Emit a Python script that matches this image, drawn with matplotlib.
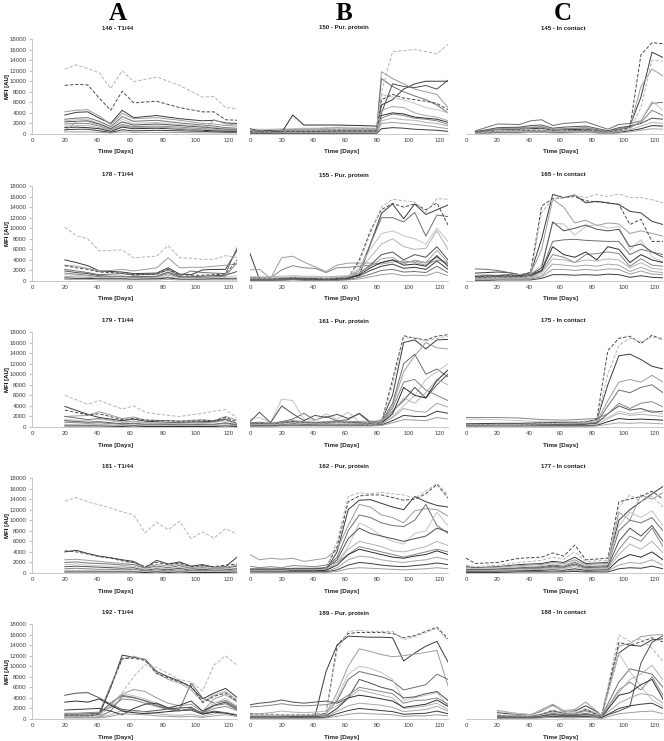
import numpy as np
import matplotlib.pyplot as plt

# values in thousands of AU

# ---------------- column A : T1/44 ----------------
days_146 = [20, 27, 34, 41, 48, 55, 62, 76, 90, 104, 111, 118, 125]
dash_light_146 = [12.3, 13.1, 12.4, 11.6, 8.6, 12.0, 9.9, 10.8, 9.2, 7.0, 7.1, 5.0, 4.8]
dash_dark_146 = [9.2, 9.4, 9.3, 6.8, 4.5, 8.1, 5.9, 6.2, 5.0, 4.2, 4.2, 2.7, 2.6]
solid_146 = [
    [3.6, 4.1, 4.2, 3.0, 2.0, 4.5, 3.1, 3.5, 2.9, 2.5, 2.6, 2.1, 2.0],
    [4.2, 4.5, 4.6, 3.4, 1.8, 3.9, 2.9, 3.1, 2.6, 2.0, 1.9, 1.6, 1.5],
    [2.8, 3.0, 3.1, 2.4, 1.4, 3.3, 2.4, 2.6, 2.1, 1.7, 1.5, 1.2, 1.1],
    [2.5, 2.7, 2.8, 2.0, 1.2, 2.8, 2.0, 2.2, 1.8, 1.5, 1.3, 1.0, 1.0],
    [2.3, 2.4, 2.5, 1.9, 1.0, 2.3, 1.7, 1.9, 1.6, 1.3, 1.1, 0.9, 0.9],
    [1.9, 2.0, 2.0, 1.5, 0.8, 1.8, 1.4, 1.5, 1.3, 1.0, 0.9, 0.7, 0.7],
    [1.5, 1.6, 1.6, 1.2, 0.7, 1.5, 1.2, 1.3, 1.1, 0.9, 0.8, 0.7, 0.6],
    [1.2, 1.3, 1.2, 1.0, 0.5, 1.3, 1.0, 1.1, 0.9, 0.7, 0.6, 0.5, 0.5],
    [0.6, 2.3, 2.4, 1.6, 0.7, 1.6, 1.2, 1.3, 1.0, 0.6, 2.7, 1.9, 1.7],
    [0.8, 0.9, 0.9, 0.6, 0.3, 0.8, 0.6, 0.7, 0.6, 0.5, 0.4, 0.3, 0.3],
    [0.4, 0.4, 0.4, 0.3, 0.2, 0.4, 0.3, 0.3, 0.3, 0.2, 0.2, 0.2, 0.2],
]

days_178 = [20, 27, 34, 41, 48, 55, 62, 76, 83, 90, 97, 104, 111, 118, 125]
dash_light_178 = [10.2, 8.6, 8.0, 5.7, 5.8, 5.9, 4.4, 4.7, 6.7, 4.4, 4.3, 4.1, 4.1, 4.8, 4.5]
dash_dark_178 = [2.9, 2.5, 2.2, 1.7, 1.6, 1.5, 1.2, 1.3, 2.2, 1.2, 1.1, 1.1, 1.2, 1.3, 4.0]
solid_178 = [
    [4.0, 3.5, 2.9, 1.9, 1.8, 1.7, 1.4, 1.5, 2.5, 1.3, 1.2, 2.1, 2.2, 2.2, 5.8],
    [3.0, 2.8, 2.4, 1.9, 2.0, 2.2, 1.9, 2.5, 4.4, 2.5, 2.6, 2.6, 2.8, 3.0, 3.2],
    [2.2, 1.9, 1.6, 1.2, 1.3, 1.4, 1.1, 1.3, 2.1, 1.0, 1.9, 1.6, 1.5, 1.4, 6.3],
    [1.2, 1.1, 0.9, 0.7, 0.7, 0.7, 0.6, 0.7, 1.1, 0.6, 0.6, 0.6, 0.7, 0.7, 1.0],
    [1.9, 1.6, 1.4, 1.0, 0.9, 0.9, 0.8, 0.9, 1.7, 0.8, 0.8, 0.9, 1.0, 1.1, 1.8],
    [1.5, 1.3, 1.1, 0.8, 0.8, 0.9, 0.7, 0.8, 1.4, 0.7, 0.7, 0.7, 0.8, 0.9, 3.5],
    [0.9, 0.8, 0.7, 0.5, 0.5, 0.5, 0.4, 0.5, 0.8, 0.4, 0.4, 0.5, 0.5, 0.5, 0.6],
    [0.6, 0.5, 0.5, 0.4, 0.4, 0.4, 0.3, 0.4, 0.6, 0.3, 0.3, 0.3, 0.4, 0.4, 0.4],
    [0.3, 0.3, 0.3, 0.2, 0.2, 0.2, 0.2, 0.2, 0.3, 0.2, 0.2, 0.2, 0.2, 0.2, 0.2],
]

days_179 = [20, 34, 41, 55, 62, 69, 83, 90, 104, 111, 118, 125]
dash_light_179 = [6.0, 4.3, 5.0, 3.4, 4.0, 2.8, 2.2, 2.0, 2.6, 3.0, 3.3, 1.7]
dash_dark_179 = [3.2, 2.3, 2.5, 1.4, 1.6, 1.3, 1.2, 1.1, 1.2, 1.2, 1.8, 1.0]
solid_179 = [
    [3.9, 2.4, 1.8, 1.2, 1.5, 1.1, 0.9, 0.9, 1.0, 1.1, 1.5, 0.6],
    [2.0, 2.2, 2.9, 1.6, 1.9, 1.3, 1.2, 1.1, 1.4, 1.2, 2.0, 1.3],
    [2.0, 1.4, 1.6, 0.9, 1.1, 0.8, 0.7, 0.7, 0.8, 0.9, 1.4, 0.6],
    [1.4, 1.2, 1.5, 0.9, 1.0, 0.8, 0.7, 0.6, 0.7, 0.8, 1.2, 0.5],
    [1.2, 0.9, 1.0, 0.6, 0.7, 0.5, 0.5, 0.4, 0.5, 0.5, 0.8, 0.4],
    [0.9, 0.7, 0.8, 0.5, 0.6, 0.5, 0.4, 0.4, 0.4, 0.5, 0.7, 0.3],
    [0.5, 0.4, 0.5, 0.3, 0.3, 0.3, 0.3, 0.2, 0.3, 0.3, 0.4, 0.2],
    [0.2, 0.2, 0.2, 0.1, 0.2, 0.1, 0.1, 0.1, 0.1, 0.1, 0.2, 0.1],
]

days_181 = [20, 27, 34, 41, 48, 55, 62, 69, 76, 83, 90, 97, 104, 111, 118, 125]
dash_light_181 = [13.6, 14.3, 13.5, 12.9, 12.3, 11.6, 11.0, 7.6, 9.6, 8.2, 9.8, 6.5, 7.8, 6.6, 8.4, 7.4]
dash_dark_181 = [4.2, 4.0, 3.6, 3.1, 2.8, 2.3, 2.0, 1.2, 2.0, 1.6, 1.9, 1.2, 1.4, 1.2, 1.5, 1.7]
solid_181 = [
    [4.0, 4.3, 3.7, 3.2, 2.9, 2.5, 2.2, 1.0, 2.4, 1.7, 2.1, 1.3, 1.6, 1.1, 1.2, 3.0],
    [2.5, 2.6, 2.4, 2.2, 2.0, 1.8, 2.0, 1.0, 1.6, 1.3, 1.7, 1.0, 1.3, 1.0, 1.1, 1.5],
    [2.0, 2.1, 1.9, 1.8, 1.7, 1.5, 1.6, 0.9, 1.3, 1.0, 1.4, 0.8, 1.0, 0.8, 0.9, 1.3],
    [1.6, 1.7, 1.5, 1.4, 1.3, 1.2, 1.3, 0.7, 1.1, 0.8, 1.1, 0.7, 0.8, 0.7, 0.8, 1.0],
    [1.2, 1.3, 1.2, 1.1, 1.0, 0.9, 1.0, 0.5, 0.8, 0.6, 0.9, 0.5, 0.7, 0.5, 0.6, 0.8],
    [0.8, 0.9, 0.8, 0.7, 0.7, 0.6, 0.7, 0.4, 0.6, 0.4, 0.6, 0.4, 0.5, 0.4, 0.4, 0.6],
    [0.5, 0.5, 0.5, 0.4, 0.4, 0.4, 0.4, 0.2, 0.3, 0.3, 0.4, 0.2, 0.3, 0.2, 0.3, 0.4],
    [0.2, 0.2, 0.2, 0.2, 0.2, 0.2, 0.2, 0.1, 0.2, 0.1, 0.2, 0.1, 0.1, 0.1, 0.1, 0.2],
]

days_192 = [20, 27, 34, 41, 48, 55, 62, 69, 76, 83, 90, 97, 104, 111, 118, 125]
dash_light_192 = [0.4, 0.4, 0.4, 0.5, 2.5, 5.0, 8.0, 10.3, 9.8, 8.6, 7.5, 7.0, 5.3, 10.2, 12.0, 10.2]
dash_dark_192 = [0.6, 0.6, 0.6, 1.0, 6.0, 11.5, 11.5, 11.1, 8.6, 7.8, 7.0, 6.3, 3.1, 4.3, 4.9, 3.4]
solid_192 = [
    [0.5, 0.5, 0.6, 0.8, 6.0, 12.1, 11.7, 11.3, 9.0, 8.0, 7.2, 6.0, 3.8, 4.9, 5.8, 4.1],
    [0.7, 0.7, 0.7, 0.9, 3.0, 4.7, 5.6, 5.2, 4.0, 3.0, 2.5, 2.8, 1.4, 3.8, 4.6, 3.2],
    [0.3, 0.3, 0.3, 0.4, 1.5, 4.3, 4.0, 3.5, 2.8, 2.0, 1.8, 6.8, 4.0, 3.0, 3.5, 2.3],
    [0.5, 0.5, 0.5, 0.6, 2.5, 4.8, 4.4, 3.8, 3.0, 2.2, 2.0, 2.3, 1.0, 3.0, 3.9, 2.5],
    [4.5, 4.9, 5.0, 4.0, 2.8, 1.8, 1.6, 1.4, 1.6, 1.9, 2.1, 2.2, 1.0, 1.5, 1.2, 0.8],
    [1.1, 1.1, 1.2, 1.3, 2.2, 3.8, 3.6, 3.0, 2.4, 1.8, 1.5, 2.0, 1.1, 2.0, 2.4, 1.6],
    [0.3, 0.3, 0.3, 0.3, 0.8, 1.6, 1.5, 1.3, 1.0, 0.8, 0.7, 0.9, 0.5, 1.0, 1.2, 0.8],
    [3.2, 3.4, 3.2, 3.8, 2.6, 1.5, 1.2, 1.0, 1.2, 1.4, 1.6, 1.7, 0.9, 1.3, 1.1, 0.7],
    [0.8, 0.8, 0.9, 1.2, 6.5, 11.3, 11.9, 11.2, 8.7, 7.5, 6.8, 5.5, 3.3, 4.5, 5.2, 3.6],
    [1.7, 1.8, 1.9, 2.0, 1.5, 0.8, 2.0, 2.8, 3.0, 2.1, 2.6, 3.4, 1.5, 2.6, 3.2, 2.0],
    [0.2, 0.2, 0.2, 0.2, 0.5, 1.0, 0.9, 0.8, 0.6, 0.5, 0.4, 0.5, 0.3, 0.6, 0.8, 0.5],
    [0.9, 0.9, 1.0, 1.1, 3.0, 4.5, 4.1, 3.4, 2.5, 1.9, 1.6, 1.9, 1.2, 2.5, 2.9, 1.8],
]

# ---------------- column B : purified protein ----------------
days_150 = [0, 6, 13, 20, 27, 34, 41, 55, 69, 80, 83, 90, 97, 104, 111, 118, 125]
dash_light_150 = [0.8, 0.7, 0.8, 0.7, 0.9, 1.0, 1.0, 1.1, 1.0, 1.0, 8.0, 15.6, 15.8, 16.0, 15.6, 15.2, 17.0]
dash_dark_150 = [0.4, 0.4, 0.4, 0.5, 0.5, 0.5, 0.5, 0.6, 0.6, 0.6, 6.5, 7.5, 6.8, 6.5, 6.2, 5.8, 4.6]
solid_150 = [
    [0.3, 0.3, 0.3, 0.3, 0.4, 0.4, 0.4, 0.4, 0.4, 0.5, 5.5, 6.5, 8.5, 9.5, 10.0, 10.0, 10.0],
    [0.6, 0.6, 0.6, 0.7, 0.8, 0.8, 0.8, 0.9, 0.9, 0.9, 11.8, 10.5, 9.5, 8.5, 8.0, 7.5, 5.0],
    [0.7, 0.7, 0.7, 0.8, 0.9, 1.0, 1.0, 1.2, 1.1, 1.0, 10.5, 9.0, 8.0, 7.2, 6.5, 5.5, 4.0],
    [0.9, 0.9, 0.9, 1.0, 1.0, 1.1, 1.1, 1.3, 1.2, 1.1, 7.5, 7.0, 6.4, 5.8, 5.0, 4.6, 4.0],
    [0.5, 0.5, 0.5, 0.6, 0.6, 0.6, 0.6, 0.7, 0.7, 0.7, 4.0, 9.5, 9.0, 8.8, 9.2, 8.5, 10.2],
    [0.3, 0.3, 0.3, 0.3, 0.4, 0.4, 0.4, 0.5, 0.5, 0.4, 3.0, 3.8, 3.5, 3.0, 2.8, 2.5, 1.8],
    [0.5, 0.5, 0.5, 0.5, 0.6, 0.6, 0.6, 0.7, 0.7, 0.6, 2.5, 3.0, 2.7, 2.6, 2.2, 2.0, 1.5],
    [1.0, 0.6, 0.7, 0.3, 3.6, 1.7, 1.7, 1.7, 1.6, 1.5, 3.5, 4.0, 3.8, 3.2, 3.0, 2.8, 2.2],
    [0.2, 0.2, 0.2, 0.2, 0.2, 0.2, 0.2, 0.3, 0.3, 0.3, 4.5, 5.2, 5.0, 4.0, 3.5, 3.2, 2.5],
    [0.1, 0.1, 0.1, 0.1, 0.1, 0.1, 0.1, 0.1, 0.1, 0.1, 1.0, 1.2, 1.1, 0.9, 0.8, 0.7, 0.5],
    [0.2, 0.2, 0.2, 0.2, 0.2, 0.2, 0.2, 0.2, 0.2, 0.2, 2.0, 2.2, 2.0, 1.8, 1.6, 1.3, 1.0],
]

days_155 = [0, 6, 13, 20, 27, 34, 41, 48, 55, 62, 69, 76, 83, 90, 97, 104, 111, 118, 125]
dash_light_155 = [0.5, 0.5, 0.5, 0.6, 0.7, 0.6, 0.6, 0.5, 0.6, 0.7, 3.5, 9.0, 14.0, 15.5, 15.2, 15.0, 13.0, 15.6, 15.5]
dash_dark_155 = [0.4, 0.4, 0.4, 0.5, 0.6, 0.5, 0.5, 0.4, 0.5, 0.6, 4.0, 9.5, 13.5, 14.7, 14.0, 14.6, 13.5, 14.8, 10.6]
solid_155 = [
    [5.2, 0.3, 0.2, 0.4, 0.6, 0.5, 0.5, 0.4, 0.7, 0.8, 1.0, 7.0, 12.8, 14.6, 11.8, 14.6, 12.6, 13.5, 14.4],
    [2.1, 2.2, 0.5, 4.4, 4.7, 3.6, 2.7, 1.8, 3.0, 3.4, 3.4, 3.4, 3.2, 3.6, 3.8, 3.5, 3.0, 4.0, 3.5],
    [0.3, 0.3, 0.3, 0.3, 0.4, 0.4, 0.4, 0.3, 0.4, 0.5, 2.0, 7.0, 12.0, 12.0, 11.2, 13.0, 8.5, 12.5, 12.2],
    [0.6, 0.6, 0.6, 0.7, 0.8, 0.7, 0.7, 0.6, 0.7, 0.8, 2.5, 6.0, 9.0, 9.5, 8.6, 8.0, 7.0, 10.0, 7.5],
    [0.2, 0.2, 0.2, 0.3, 0.5, 0.4, 0.4, 0.3, 0.4, 0.5, 1.5, 3.0, 5.0, 5.5, 4.0, 5.0, 4.5, 6.5, 4.0],
    [0.7, 0.6, 0.6, 2.1, 2.9, 2.5, 2.4, 1.6, 2.5, 2.6, 2.8, 3.0, 3.5, 4.0, 3.5, 3.8, 3.4, 4.5, 3.2],
    [0.8, 0.8, 0.8, 0.9, 1.0, 0.9, 0.9, 0.8, 0.9, 1.0, 2.0, 4.5, 7.0, 8.0, 6.5, 6.0, 6.2, 9.5, 6.0],
    [0.2, 0.2, 0.2, 0.2, 0.3, 0.3, 0.3, 0.2, 0.3, 0.4, 1.2, 2.5, 3.5, 4.0, 3.0, 3.2, 2.8, 4.8, 2.8],
    [0.3, 0.3, 0.3, 0.4, 0.6, 0.5, 0.5, 0.4, 0.5, 0.6, 1.5, 2.8, 4.2, 4.5, 3.2, 4.0, 3.5, 5.8, 3.5],
    [0.4, 0.4, 0.4, 0.5, 0.6, 0.5, 0.5, 0.4, 0.5, 0.6, 1.0, 2.0, 2.8, 3.2, 2.4, 2.6, 2.2, 3.8, 2.2],
    [0.1, 0.1, 0.1, 0.1, 0.2, 0.1, 0.1, 0.1, 0.1, 0.2, 0.4, 0.8, 1.2, 1.4, 1.0, 1.1, 1.0, 1.7, 1.0],
    [0.1, 0.1, 0.1, 0.2, 0.3, 0.2, 0.2, 0.2, 0.2, 0.3, 0.7, 1.3, 2.0, 2.2, 1.7, 1.8, 1.6, 2.8, 1.6],
]

days_161 = [0, 6, 13, 20, 27, 34, 41, 48, 55, 62, 69, 76, 83, 90, 97, 104, 111, 118, 125]
dash_light_161 = [0.4, 0.5, 0.4, 0.6, 0.8, 0.7, 0.6, 0.7, 0.8, 0.7, 0.6, 0.5, 0.8, 8.0, 16.8, 17.0, 16.3, 16.8, 17.2]
dash_dark_161 = [0.5, 0.6, 0.5, 0.7, 1.0, 0.8, 0.7, 0.8, 0.9, 0.8, 0.7, 0.6, 0.9, 9.0, 17.3, 16.8, 16.5, 17.2, 17.5]
solid_161 = [
    [0.6, 0.6, 0.6, 0.8, 1.0, 0.9, 0.8, 0.9, 1.0, 0.9, 0.8, 0.7, 1.2, 6.0, 16.0, 16.5, 14.8, 16.5, 16.6],
    [0.3, 0.3, 0.3, 0.4, 0.5, 0.5, 0.4, 0.4, 0.5, 0.5, 0.4, 0.4, 0.6, 4.0, 10.5, 13.5, 16.0, 15.0, 14.8],
    [0.8, 0.9, 0.7, 1.0, 1.5, 2.6, 1.3, 2.0, 1.2, 1.4, 2.6, 1.0, 1.0, 4.5, 12.0, 13.8, 10.0, 11.0, 9.5],
    [1.5, 1.8, 0.8, 5.3, 5.0, 1.5, 1.2, 2.5, 1.5, 2.8, 1.0, 1.2, 1.0, 2.0, 4.0, 6.0, 9.0, 10.5, 12.0],
    [1.0, 2.8, 0.8, 4.0, 2.5, 1.2, 2.2, 1.8, 2.4, 1.6, 2.5, 0.8, 0.9, 3.0, 5.0, 7.5, 5.5, 8.0, 10.0],
    [0.6, 0.7, 0.6, 0.9, 1.2, 1.0, 0.9, 1.0, 1.2, 1.1, 1.0, 0.9, 1.3, 3.5, 8.5, 9.0, 7.0, 6.0, 5.0],
    [0.5, 0.5, 0.5, 0.7, 0.9, 0.8, 0.7, 0.8, 0.9, 0.8, 0.7, 0.7, 1.0, 2.8, 5.5, 4.5, 6.5, 9.0, 8.0],
    [0.2, 0.3, 0.3, 0.4, 0.6, 0.5, 0.5, 0.6, 0.5, 0.5, 0.5, 0.5, 0.7, 2.5, 7.5, 6.0, 5.5, 8.8, 10.8],
    [0.3, 0.3, 0.3, 0.4, 0.5, 0.4, 0.4, 0.5, 0.5, 0.5, 0.4, 0.4, 0.6, 1.8, 3.5, 3.0, 2.8, 4.5, 3.8],
    [0.2, 0.2, 0.2, 0.3, 0.3, 0.3, 0.3, 0.3, 0.3, 0.3, 0.3, 0.3, 0.4, 1.2, 2.2, 2.0, 2.0, 3.0, 2.6],
    [0.1, 0.1, 0.1, 0.2, 0.2, 0.2, 0.2, 0.2, 0.2, 0.2, 0.2, 0.2, 0.3, 0.8, 1.4, 1.3, 1.2, 1.8, 1.5],
]

days_162 = [0, 6, 13, 20, 27, 34, 41, 48, 55, 62, 69, 76, 83, 90, 97, 104, 111, 118, 125]
dash_light_162 = [0.5, 0.5, 0.5, 0.5, 0.6, 0.6, 0.6, 0.8, 6.0, 14.5, 15.2, 15.0, 15.3, 15.0, 14.8, 14.2, 15.5, 17.0, 14.8]
dash_dark_162 = [0.6, 0.6, 0.6, 0.6, 0.7, 0.7, 0.7, 1.0, 5.0, 13.5, 14.6, 14.8, 14.8, 14.3, 13.8, 14.0, 15.0, 16.8, 14.2]
solid_162 = [
    [0.4, 0.4, 0.4, 0.4, 0.5, 0.5, 0.5, 0.6, 4.0, 12.0, 13.8, 13.9, 13.2, 12.5, 12.0, 14.5, 13.5, 12.8, 12.5],
    [3.5, 2.5, 2.8, 2.6, 2.8, 2.2, 2.5, 2.8, 4.5, 9.0, 13.0, 12.5, 11.0, 10.5, 9.5, 11.8, 12.2, 12.0, 10.8],
    [0.8, 0.8, 0.8, 0.8, 0.9, 0.9, 0.9, 1.0, 3.0, 8.0, 11.0, 10.5, 9.5, 9.0, 8.8, 10.0, 13.0, 9.0, 7.5],
    [0.3, 0.3, 0.3, 0.3, 0.3, 0.3, 0.3, 0.4, 2.0, 5.0, 9.5, 8.5, 7.0, 6.0, 5.5, 7.5, 8.0, 11.5, 9.0],
    [0.7, 0.7, 0.7, 0.7, 0.8, 0.8, 0.8, 0.9, 2.5, 6.5, 8.5, 7.5, 7.0, 6.5, 6.0, 6.5, 7.0, 8.5, 7.8],
    [1.3, 1.0, 1.2, 1.0, 1.4, 1.3, 1.2, 1.5, 2.0, 3.5, 5.0, 4.5, 4.0, 3.5, 3.0, 3.5, 4.0, 4.5, 4.0],
    [0.5, 0.5, 0.5, 0.5, 0.6, 0.6, 0.6, 0.7, 2.0, 4.5, 6.0, 5.5, 5.0, 4.2, 4.0, 4.5, 5.0, 6.0, 5.2],
    [0.3, 0.3, 0.3, 0.3, 0.4, 0.4, 0.4, 0.5, 1.5, 3.5, 4.5, 4.0, 3.5, 3.0, 2.8, 3.2, 3.5, 4.2, 3.5],
    [0.2, 0.2, 0.2, 0.2, 0.2, 0.2, 0.2, 0.3, 1.0, 2.5, 3.2, 3.0, 2.5, 2.2, 2.0, 2.3, 2.5, 3.0, 2.5],
    [0.1, 0.1, 0.1, 0.1, 0.2, 0.2, 0.2, 0.2, 0.6, 1.5, 2.0, 1.8, 1.5, 1.3, 1.2, 1.4, 1.6, 1.9, 1.6],
    [0.1, 0.1, 0.1, 0.1, 0.1, 0.1, 0.1, 0.1, 0.3, 0.8, 1.0, 0.9, 0.8, 0.7, 0.6, 0.7, 0.8, 1.0, 0.8],
]

days_189 = [0, 6, 13, 20, 27, 34, 41, 48, 55, 62, 69, 76, 83, 90, 97, 104, 111, 118, 125]
dash_light_189 = [0.8, 0.8, 0.8, 0.8, 0.8, 0.8, 0.8, 0.9, 13.0, 16.6, 16.8, 16.6, 16.6, 16.6, 15.0, 15.6, 16.4, 17.2, 14.8]
dash_dark_189 = [1.0, 0.9, 0.9, 0.8, 0.8, 0.8, 0.9, 1.0, 14.0, 16.2, 16.4, 16.4, 16.4, 16.2, 15.4, 15.8, 16.6, 17.4, 15.2]
solid_189 = [
    [0.4, 0.4, 0.4, 0.4, 0.4, 0.4, 0.5, 9.0, 14.0, 15.7, 15.6, 15.5, 15.5, 15.4, 11.0, 12.5, 13.8, 14.7, 10.8],
    [0.6, 0.6, 0.6, 0.6, 0.6, 0.6, 0.7, 1.0, 5.0, 10.0, 13.3, 12.8, 12.2, 11.8, 12.0, 12.3, 12.6, 13.0, 6.3],
    [0.5, 0.5, 0.5, 0.5, 0.5, 0.5, 0.6, 1.0, 3.5, 7.5, 9.0, 8.5, 8.0, 7.2, 5.5, 6.0, 6.5, 8.5, 7.5],
    [0.3, 0.3, 0.3, 0.3, 0.3, 0.3, 0.4, 0.8, 4.0, 8.5, 10.0, 9.6, 8.8, 7.5, 3.5, 4.0, 4.5, 5.0, 2.5],
    [2.7, 3.0, 3.2, 3.6, 3.2, 3.0, 3.2, 3.4, 3.0, 4.0, 7.5, 6.8, 6.0, 5.5, 4.0, 4.2, 4.8, 5.2, 3.5],
    [2.3, 2.4, 2.6, 2.9, 2.6, 2.5, 2.6, 2.7, 3.2, 4.5, 6.0, 5.6, 5.2, 4.8, 3.0, 3.5, 3.6, 4.0, 2.8],
    [0.9, 1.0, 1.2, 1.5, 1.3, 1.2, 1.3, 1.5, 2.5, 4.0, 5.5, 5.0, 4.5, 4.0, 2.0, 2.2, 2.5, 3.0, 1.8],
    [0.3, 0.3, 0.3, 0.3, 0.4, 0.4, 0.4, 0.6, 2.0, 4.0, 4.5, 4.2, 3.8, 3.4, 2.2, 2.5, 2.8, 3.6, 2.4],
    [0.2, 0.2, 0.2, 0.2, 0.3, 0.3, 0.3, 0.4, 1.5, 2.5, 3.0, 2.8, 2.6, 2.2, 1.4, 1.6, 1.8, 2.4, 1.5],
    [0.1, 0.1, 0.1, 0.1, 0.2, 0.2, 0.2, 0.3, 1.0, 1.6, 2.0, 1.8, 1.6, 1.4, 0.9, 1.0, 1.1, 1.5, 1.0],
    [0.1, 0.1, 0.1, 0.1, 0.1, 0.1, 0.1, 0.2, 0.5, 0.9, 1.1, 1.0, 0.9, 0.8, 0.5, 0.6, 0.6, 0.8, 0.6],
]

# ---------------- column C : in contact ----------------
days_145 = [6, 20, 34, 41, 48, 55, 62, 76, 90, 97, 104, 111, 118, 125]
dash_light_145 = [0.2, 0.4, 0.5, 0.5, 0.6, 0.4, 0.5, 0.5, 0.2, 0.5, 0.8, 5.0, 14.0, 13.8]
dash_dark_145 = [0.3, 0.5, 0.6, 0.7, 0.7, 0.5, 0.6, 0.7, 0.3, 0.6, 1.2, 15.0, 17.3, 17.1]
solid_145 = [
    [0.4, 0.8, 0.9, 1.0, 1.1, 0.7, 0.8, 0.9, 0.4, 0.8, 1.5, 7.0, 15.5, 14.5],
    [0.5, 1.0, 1.2, 1.3, 1.4, 0.9, 1.0, 1.1, 0.5, 1.0, 1.3, 9.0, 12.3, 11.0],
    [0.6, 1.9, 1.8, 2.5, 2.7, 1.6, 2.0, 2.3, 0.9, 1.8, 2.0, 2.5, 5.8, 6.0],
    [0.2, 0.6, 0.7, 0.8, 0.8, 0.5, 0.6, 0.7, 0.3, 0.5, 1.0, 2.5, 6.2, 4.5],
    [0.4, 1.2, 1.3, 1.6, 1.7, 1.1, 1.3, 1.5, 0.6, 1.2, 1.5, 2.0, 3.0, 2.8],
    [0.3, 0.9, 1.0, 1.2, 1.3, 0.8, 1.0, 1.2, 0.5, 0.9, 1.3, 2.2, 4.5, 3.5],
    [0.1, 0.4, 0.5, 0.6, 0.6, 0.4, 0.5, 0.6, 0.2, 0.4, 0.8, 1.5, 2.2, 2.0],
    [0.1, 0.3, 0.3, 0.4, 0.4, 0.3, 0.3, 0.4, 0.1, 0.3, 0.6, 1.0, 1.6, 1.5],
    [0.1, 0.2, 0.2, 0.3, 0.3, 0.2, 0.2, 0.3, 0.1, 0.2, 0.4, 0.7, 1.0, 0.9],
]

days_165 = [6, 13, 20, 27, 34, 41, 48, 55, 62, 69, 76, 83, 90, 97, 104, 111, 118, 125]
dash_light_165 = [0.6, 0.6, 0.7, 0.7, 0.7, 0.9, 13.0, 15.5, 15.8, 16.2, 15.8, 16.4, 16.0, 16.5, 15.8, 15.8, 15.4, 14.8]
dash_dark_165 = [0.8, 0.9, 0.9, 1.0, 0.9, 1.7, 14.2, 15.6, 15.8, 16.0, 15.2, 15.0, 14.8, 14.5, 10.7, 11.7, 7.5, 7.5]
solid_165 = [
    [1.5, 1.6, 1.7, 1.6, 1.2, 1.5, 8.0, 16.4, 15.8, 16.3, 14.8, 15.1, 14.8, 14.5, 13.2, 12.9, 11.3, 10.7],
    [1.0, 1.1, 1.0, 1.2, 1.0, 1.4, 6.0, 15.5, 14.0, 11.0, 11.5, 10.5, 11.0, 10.8, 9.0, 9.5, 9.0, 8.5],
    [2.3, 2.2, 2.0, 1.6, 1.2, 1.3, 2.0, 7.5, 7.8, 7.9, 7.7, 7.6, 7.5, 7.5, 5.0, 6.0, 5.5, 5.0],
    [1.1, 1.2, 1.1, 1.3, 1.1, 1.3, 3.0, 11.0, 10.8, 8.7, 10.3, 10.7, 10.0, 10.3, 5.9, 7.8, 4.6, 3.6],
    [0.9, 1.0, 1.0, 1.2, 1.0, 1.2, 2.5, 11.2, 9.5, 10.0, 10.6, 9.8, 9.5, 9.8, 6.5, 7.0, 5.5, 4.5],
    [0.5, 0.5, 0.6, 0.7, 0.6, 0.8, 1.8, 5.0, 4.5, 3.5, 5.0, 5.2, 5.5, 5.2, 2.8, 4.2, 3.0, 2.8],
    [0.4, 0.4, 0.5, 0.5, 0.5, 0.6, 1.5, 4.2, 4.0, 3.5, 4.0, 3.8, 4.2, 4.0, 2.5, 3.5, 2.4, 2.2],
    [0.7, 0.7, 0.8, 0.8, 0.8, 1.0, 2.0, 6.5, 5.0, 4.5, 5.5, 4.0, 6.5, 6.0, 3.5, 5.0, 4.0, 3.5],
    [0.3, 0.3, 0.4, 0.4, 0.4, 0.5, 1.0, 3.2, 3.0, 2.8, 3.0, 2.8, 3.2, 3.0, 1.8, 2.6, 1.8, 1.6],
    [0.1, 0.1, 0.2, 0.2, 0.2, 0.2, 0.5, 1.2, 1.2, 1.1, 1.2, 1.1, 1.3, 1.2, 0.7, 1.0, 0.7, 0.6],
    [0.2, 0.2, 0.3, 0.3, 0.3, 0.4, 0.8, 2.2, 2.2, 2.0, 2.2, 2.0, 2.3, 2.2, 1.3, 1.9, 1.3, 1.2],
]

days_175 = [0, 20, 34, 48, 62, 76, 83, 90, 97, 104, 111, 118, 125]
dash_light_175 = [0.4, 0.4, 0.5, 0.6, 0.7, 0.8, 1.2, 10.0, 15.5, 16.8, 16.2, 17.0, 16.8]
dash_dark_175 = [0.5, 0.5, 0.6, 0.7, 0.8, 0.9, 1.5, 14.5, 16.8, 17.2, 15.8, 17.4, 16.5]
solid_175 = [
    [0.6, 0.7, 0.7, 0.8, 0.9, 1.0, 1.3, 8.0, 13.5, 13.8, 12.8, 11.5, 11.0],
    [0.3, 0.4, 0.4, 0.5, 0.6, 0.7, 1.0, 5.0, 8.5, 9.0, 8.5, 9.8, 8.5],
    [0.3, 0.3, 0.4, 0.4, 0.5, 0.6, 0.8, 4.0, 7.0, 6.5, 7.5, 8.0, 6.5],
    [1.5, 1.4, 1.2, 1.0, 1.0, 1.1, 1.2, 1.8, 3.0, 2.5, 2.8, 3.2, 2.4],
    [0.2, 0.3, 0.3, 0.4, 0.4, 0.5, 0.7, 2.5, 4.0, 3.2, 3.5, 2.8, 3.0],
    [1.8, 1.8, 1.7, 1.4, 1.3, 1.5, 1.6, 2.5, 4.5, 3.5, 4.5, 4.8, 3.8],
    [0.1, 0.2, 0.2, 0.3, 0.3, 0.3, 0.5, 1.6, 2.6, 2.2, 2.4, 2.2, 2.0],
    [0.1, 0.1, 0.1, 0.2, 0.2, 0.2, 0.3, 1.0, 1.6, 1.4, 1.5, 1.4, 1.3],
    [0.1, 0.1, 0.1, 0.1, 0.1, 0.1, 0.2, 0.5, 0.8, 0.7, 0.8, 0.7, 0.6],
]

days_177 = [0, 6, 20, 34, 48, 55, 62, 69, 76, 90, 97, 104, 111, 118, 125]
dash_light_177 = [1.5, 1.2, 1.5, 2.0, 2.4, 3.0, 2.6, 4.0, 2.2, 2.4, 12.5, 14.8, 13.5, 14.6, 12.5]
dash_dark_177 = [2.8, 1.8, 2.0, 2.8, 3.0, 3.8, 3.2, 5.3, 2.5, 2.8, 13.5, 14.0, 14.5, 15.5, 14.0]
solid_177 = [
    [1.2, 1.0, 1.2, 1.6, 1.8, 2.2, 2.0, 3.0, 1.8, 2.0, 10.0, 12.0, 13.5, 15.0, 16.4],
    [1.0, 0.9, 1.1, 1.4, 1.6, 2.0, 1.8, 2.5, 1.6, 1.8, 11.5, 10.0, 14.8, 14.0, 15.2],
    [0.7, 0.7, 0.8, 1.0, 1.2, 1.5, 1.3, 2.0, 1.2, 1.4, 8.0, 10.0, 9.5, 10.5, 8.0],
    [0.8, 0.8, 0.9, 1.2, 1.4, 1.7, 1.5, 2.2, 1.4, 1.6, 9.0, 11.5, 10.5, 11.8, 9.0],
    [0.6, 0.6, 0.7, 0.9, 1.0, 1.3, 1.1, 1.7, 1.0, 1.2, 6.0, 8.5, 7.0, 9.0, 6.0],
    [0.5, 0.5, 0.6, 0.8, 0.9, 1.1, 1.0, 1.5, 0.9, 1.0, 4.5, 7.0, 6.0, 8.5, 5.0],
    [0.4, 0.4, 0.5, 0.6, 0.7, 0.9, 0.8, 1.2, 0.7, 0.8, 3.5, 5.5, 4.5, 6.0, 3.8],
    [0.3, 0.3, 0.3, 0.4, 0.5, 0.6, 0.5, 0.8, 0.5, 0.6, 2.5, 3.5, 3.0, 4.0, 2.5],
    [0.2, 0.2, 0.2, 0.3, 0.3, 0.4, 0.3, 0.5, 0.3, 0.4, 1.5, 2.0, 1.8, 2.5, 1.5],
    [0.1, 0.1, 0.1, 0.2, 0.2, 0.2, 0.2, 0.3, 0.2, 0.2, 0.8, 1.0, 0.9, 1.3, 0.8],
]

days_188 = [20, 27, 34, 41, 48, 55, 62, 69, 76, 83, 86, 97, 104, 111, 118, 125]
dash_light_188 = [0.8, 0.7, 0.6, 0.6, 1.0, 1.8, 1.2, 1.0, 2.0, 1.0, 0.6, 15.9, 14.7, 15.1, 13.4, 10.9]
dash_dark_188 = [0.6, 0.6, 0.5, 0.5, 0.9, 1.6, 1.1, 1.0, 1.8, 0.9, 0.5, 14.5, 14.0, 14.6, 15.4, 14.6]
solid_188 = [
    [1.2, 1.0, 0.9, 0.8, 1.5, 2.6, 1.4, 1.5, 2.5, 1.4, 0.6, 12.5, 14.0, 13.8, 15.0, 15.2],
    [1.6, 1.3, 1.0, 0.8, 1.8, 2.8, 1.6, 1.8, 3.2, 1.5, 0.7, 13.8, 14.3, 15.6, 15.9, 16.0],
    [0.7, 0.6, 0.6, 0.5, 0.9, 1.5, 1.1, 1.1, 1.6, 1.0, 0.5, 7.0, 9.5, 9.0, 8.5, 6.0],
    [1.4, 1.2, 1.0, 0.9, 1.6, 2.5, 1.5, 1.3, 1.8, 1.2, 0.5, 12.5, 9.0, 6.2, 3.6, 2.4],
    [0.5, 0.5, 0.5, 0.4, 0.6, 1.0, 0.8, 0.8, 1.0, 0.7, 0.4, 1.5, 2.4, 10.6, 14.5, 15.8],
    [0.4, 0.4, 0.4, 0.4, 0.6, 1.0, 0.7, 0.7, 1.0, 0.6, 0.4, 5.5, 7.0, 5.5, 8.0, 4.5],
    [0.6, 0.6, 0.5, 0.5, 0.8, 1.3, 1.0, 1.0, 1.4, 0.9, 0.5, 5.0, 7.5, 8.5, 10.2, 7.4],
    [0.3, 0.3, 0.3, 0.3, 0.5, 0.8, 0.6, 0.6, 0.8, 0.5, 0.3, 4.5, 5.0, 6.5, 7.5, 3.8],
    [0.3, 0.3, 0.3, 0.3, 0.4, 0.7, 0.5, 0.5, 0.7, 0.5, 0.3, 3.0, 4.0, 4.8, 4.5, 3.0],
    [0.2, 0.2, 0.2, 0.2, 0.3, 0.5, 0.4, 0.4, 0.5, 0.3, 0.2, 2.0, 2.5, 2.8, 3.0, 2.0],
    [0.1, 0.1, 0.1, 0.1, 0.2, 0.3, 0.2, 0.2, 0.3, 0.2, 0.1, 1.0, 1.2, 1.4, 1.5, 1.0],
]

col_letters = ['A', 'B', 'C']
columns = [
    [('146 - T1/44', days_146, solid_146, dash_light_146, dash_dark_146),
     ('178 - T1/44', days_178, solid_178, dash_light_178, dash_dark_178),
     ('179 - T1/44', days_179, solid_179, dash_light_179, dash_dark_179),
     ('181 - T1/44', days_181, solid_181, dash_light_181, dash_dark_181),
     ('192 - T1/44', days_192, solid_192, dash_light_192, dash_dark_192)],
    [('150 - Pur. protein', days_150, solid_150, dash_light_150, dash_dark_150),
     ('155 - Pur. protein', days_155, solid_155, dash_light_155, dash_dark_155),
     ('161 - Pur. protein', days_161, solid_161, dash_light_161, dash_dark_161),
     ('162 - Pur. protein', days_162, solid_162, dash_light_162, dash_dark_162),
     ('189 - Pur. protein', days_189, solid_189, dash_light_189, dash_dark_189)],
    [('145 - In contact', days_145, solid_145, dash_light_145, dash_dark_145),
     ('165 - In contact', days_165, solid_165, dash_light_165, dash_dark_165),
     ('175 - In contact', days_175, solid_175, dash_light_175, dash_dark_175),
     ('177 - In contact', days_177, solid_177, dash_light_177, dash_dark_177),
     ('188 - In contact', days_188, solid_188, dash_light_188, dash_dark_188)],
]

grays = ['#3a3a3a', '#9c9c9c', '#6f6f6f', '#c4c4c4', '#505050', '#858585', '#b2b2b2', '#2c2c2c', '#a6a6a6']

W, H = 664, 741
fig = plt.figure(figsize=(W / 100, H / 100), dpi=100)
plt.rcParams['font.family'] = ['Liberation Sans', 'DejaVu Sans']

col_left = [32, 250, 466]
col_width = [205, 198, 197]
col_center = [118, 344, 563]
row_top = [39, 186, 332, 478, 624]
row_h = 95

for c, col in enumerate(columns):
    fig.text(col_center[c] / W, 1 - 13 / H, col_letters[c], ha='center', va='center',
             fontsize=18, fontweight='bold', family='Liberation Serif')
    for r, (title, days, solids, dl, dd) in enumerate(col):
        ax = fig.add_axes([col_left[c] / W, 1 - (row_top[r] + row_h) / H,
                           col_width[c] / W, row_h / H])
        for i, s in enumerate(solids):
            ax.plot(days, np.array(s) * 1000, color=grays[i % len(grays)], lw=0.7)
        ax.plot(days, np.array(dd) * 1000, color='#4a4a4a', lw=0.7, dashes=(3.5, 1.8))
        ax.plot(days, np.array(dl) * 1000, color='#b4b4b4', lw=0.7, dashes=(3.5, 1.8))
        ax.set_xlim(0, 125)
        ax.set_ylim(0, 18000)
        ax.set_xticks(range(0, 121, 20))
        ax.tick_params(axis='x', length=0, pad=3, labelsize=4.4, labelcolor='#404040')
        for sp in ['top', 'right']:
            ax.spines[sp].set_visible(False)
        ax.spines['bottom'].set_color('#c0c0c0')
        ax.spines['bottom'].set_linewidth(0.6)
        if c == 0:
            ax.set_yticks(range(0, 18001, 2000))
            ax.tick_params(axis='y', length=2, color='#c0c0c0', pad=2,
                           labelsize=4.4, labelcolor='#404040')
            ax.spines['left'].set_color('#c0c0c0')
            ax.spines['left'].set_linewidth(0.6)
            fig.text(8 / W, 1 - (row_top[r] + row_h / 2) / H, 'MFI [AU]', rotation=90,
                     ha='center', va='center', fontsize=4.4, fontweight='bold')
        else:
            ax.spines['left'].set_visible(False)
            ax.set_yticks([])
        fig.text(col_center[c] / W, 1 - (row_top[r] - 11) / H, title, ha='center',
                 va='center', fontsize=4.4, fontweight='bold', color='#202020')
        fig.text((col_center[c] - 2) / W, 1 - (row_top[r] + row_h + 18) / H, 'Time [Days]',
                 ha='center', va='center', fontsize=4.5, fontweight='bold', color='#202020')

fig.savefig('out.png', dpi=100)
